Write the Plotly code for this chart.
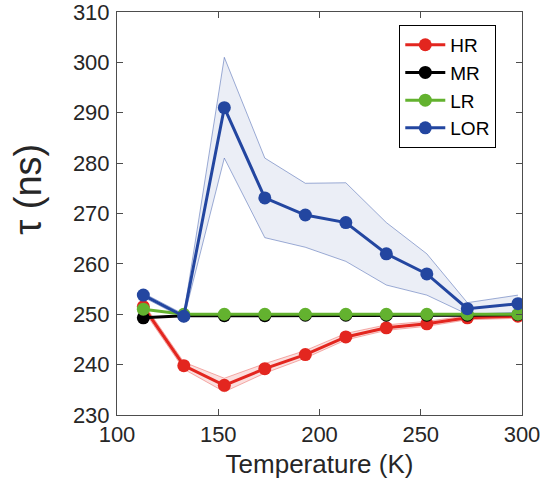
import plotly.graph_objects as go

# Temperature points (K)
temps = [113, 133, 153, 173, 193, 213, 233, 253, 273, 298]

# Lifetimes (ns) per sample
hr = [251.5, 239.8, 235.9, 239.2, 242.0, 245.5, 247.3, 248.1, 249.3, 249.6]
hr_hi = [252.2, 240.5, 237.3, 240.2, 242.8, 246.2, 247.9, 248.6, 249.7, 250.0]
hr_lo = [250.8, 239.1, 234.6, 238.3, 241.3, 244.9, 246.8, 247.6, 248.9, 249.2]

mr = [249.3, 249.7, 249.7, 249.7, 249.8, 249.8, 249.8, 249.8, 249.8, 249.9]
lr = [251.0, 250.0, 250.0, 250.0, 250.0, 250.0, 250.0, 250.0, 250.0, 250.0]

lor = [253.8, 249.6, 291.0, 273.1, 269.7, 268.2, 262.0, 258.0, 251.1, 252.1]
lor_hi = [254.2, 250.0, 301.0, 281.0, 276.0, 276.1, 268.2, 262.0, 252.3, 253.8]
lor_lo = [253.4, 249.2, 281.0, 265.2, 263.3, 260.5, 255.8, 253.8, 250.0, 250.4]

x_ticks = [100, 150, 200, 250, 300]
y_ticks = [230, 240, 250, 260, 270, 280, 290, 300, 310]

RED = "#E3261F"
BLACK = "#000000"
GREEN = "#63B22F"
BLUE = "#2346A0"
FONT = "Arial, Liberation Sans, Helvetica"

fig = go.Figure()


def band(upper, lower, edge, fill):
    fig.add_trace(go.Scatter(x=temps, y=upper, mode="lines",
                             line=dict(color=edge, width=0.8),
                             showlegend=False, hoverinfo="skip"))
    fig.add_trace(go.Scatter(x=temps, y=lower, mode="lines",
                             line=dict(color=edge, width=0.8),
                             fill="tonexty", fillcolor=fill,
                             showlegend=False, hoverinfo="skip"))


band(hr_hi, hr_lo, "rgba(227,38,31,0.45)", "rgba(227,38,31,0.15)")
band(lor_hi, lor_lo, "rgba(35,70,160,0.55)", "rgba(35,70,160,0.09)")

for name, vals, col in [("HR", hr, RED), ("MR", mr, BLACK),
                        ("LR", lr, GREEN), ("LOR", lor, BLUE)]:
    fig.add_trace(go.Scatter(x=temps, y=vals, mode="lines+markers", name=name,
                             line=dict(color=col, width=3),
                             marker=dict(color=col, size=13)))

axis_common = dict(showline=True, linecolor="#4d4d4d", linewidth=1,
                   mirror="ticks", ticks="inside", ticklen=6,
                   tickcolor="#4d4d4d", showgrid=False, zeroline=False,
                   automargin=False, ticklabeloverflow="allow",
                   tickfont=dict(family=FONT, size=22, color="#262626"))

fig.update_layout(
    width=542, height=489,
    margin=dict(l=117, r=20, t=12, b=74),
    paper_bgcolor="white", plot_bgcolor="white",
    xaxis=dict(range=[100, 300], tickvals=x_ticks,
               title=dict(text="Temperature (K)", standoff=8,
                          font=dict(family=FONT, size=26, color="#262626")),
               **axis_common),
    yaxis=dict(range=[230, 310], tickvals=y_ticks, ticklabelstandoff=2,
               **axis_common),
    annotations=[dict(text="τ (ns)", textangle=-90, showarrow=False,
                      xref="paper", yref="paper", x=-0.22, y=0.561,
                      xanchor="center", yanchor="middle",
                      font=dict(family=FONT, size=38, color="#262626"))],
    legend=dict(x=0.697, y=0.968, xanchor="left", yanchor="top",
                traceorder="normal",
                bordercolor="#000000", borderwidth=1, bgcolor="white",
                font=dict(family=FONT, size=19, color="#000000"),
                tracegroupgap=0, itemwidth=40),
)

fig.write_html("out.html")
